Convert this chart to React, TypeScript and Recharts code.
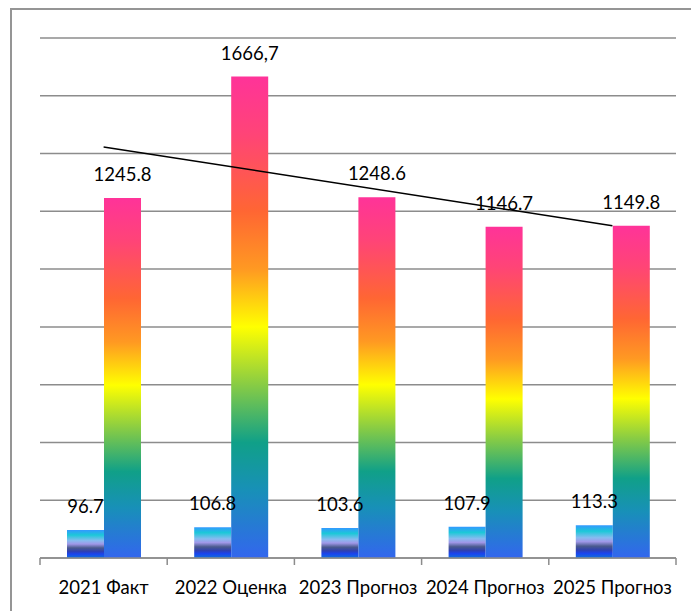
import React from "react";
import {
  Bar,
  ComposedChart,
  CartesianGrid,
  LabelList,
  Line,
  XAxis,
  YAxis,
} from "recharts";

const categories = [
  "2021 Факт",
  "2022 Оценка",
  "2023 Прогноз",
  "2024 Прогноз",
  "2025 Прогноз",
];
const smallValues = [96.7, 106.8, 103.6, 107.9, 113.3];
const smallLabels = ["96.7", "106.8", "103.6", "107.9", "113.3"];
const bigValues = [1245.8, 1666.7, 1248.6, 1146.7, 1149.8];
const bigLabels = ["1245.8", "1666,7", "1248.6", "1146.7", "1149.8"];
// trend line: only its two ends
const trendValues = [1423, null, null, null, 1150];
const yTicks = [0, 200, 400, 600, 800, 1000, 1200, 1400, 1600, 1800];

const data = categories.map((name, i) => ({
  name,
  small: smallValues[i],
  smallLabel: smallLabels[i],
  big: bigValues[i],
  bigLabel: bigLabels[i],
  trend: trendValues[i],
}));

const W = 691;
const H = 611;
const MARGIN = { top: 38, right: 15, bottom: 23, left: 40 };
const BAND = (W - MARGIN.left - MARGIN.right) / categories.length;
const FONT = "Lato, 'Noto Sans', sans-serif";
const GRID = "#8c8c8c";

const CategoryTick = (props: any) => {
  const { x, y, payload, index } = props;
  const last = index === categories.length - 1;
  return (
    <g>
      <line x1={x - BAND / 2} x2={x - BAND / 2} y1={y - 8} y2={y - 1} stroke={GRID} strokeWidth={1.5} />
      {last && (
        <line x1={x + BAND / 2} x2={x + BAND / 2} y1={y - 8} y2={y - 1} stroke={GRID} strokeWidth={1.5} />
      )}
      <text x={x} y={y + 28} textAnchor="middle" fill="#000" fontSize={18.5} fontFamily={FONT}>
        {payload.value}
      </text>
    </g>
  );
};

export default function App() {
  return (
    <div
      style={{
        position: "absolute",
        left: 0,
        top: 0,
        width: W,
        height: H,
        overflow: "hidden",
        background: "#fff",
      }}
    >
      <div
        style={{
          position: "absolute",
          left: 10,
          top: 8,
          width: 720,
          height: 640,
          border: "2px solid #959595",
        }}
      />
      <div style={{ position: "absolute", left: 0, top: 0 }}>
        <ComposedChart width={W} height={H} data={data} margin={MARGIN} barGap={0}>
          <defs>
            <linearGradient id="smallGrad" x1="0" y1="0" x2="0" y2="1">
              <stop offset="0" stopColor="#3399ff" />
              <stop offset="0.18" stopColor="#1cc8d8" />
              <stop offset="0.38" stopColor="#88bbf0" />
              <stop offset="0.5" stopColor="#a098e8" />
              <stop offset="0.64" stopColor="#4a5a8e" />
              <stop offset="0.76" stopColor="#3040b0" />
              <stop offset="0.86" stopColor="#1a44f0" />
              <stop offset="1" stopColor="#1070d8" />
            </linearGradient>
            <linearGradient id="bigGrad" x1="0" y1="0" x2="0" y2="1">
              <stop offset="0" stopColor="#ff3399" />
              <stop offset="0.12" stopColor="#ff4477" />
              <stop offset="0.28" stopColor="#ff6633" />
              <stop offset="0.4" stopColor="#ff9922" />
              <stop offset="0.52" stopColor="#ffff00" />
              <stop offset="0.64" stopColor="#88cc44" />
              <stop offset="0.76" stopColor="#10a088" />
              <stop offset="0.86" stopColor="#1890b8" />
              <stop offset="1" stopColor="#3366ee" />
            </linearGradient>
          </defs>
          <CartesianGrid vertical={false} stroke={GRID} strokeWidth={1.5} />
          <XAxis
            dataKey="name"
            interval={0}
            height={30}
            tickLine={false}
            axisLine={{ stroke: GRID, strokeWidth: 1.5 }}
            tick={<CategoryTick />}
          />
          <YAxis hide domain={[0, 1800]} ticks={yTicks} />
          <Bar dataKey="small" fill="url(#smallGrad)" barSize={37} isAnimationActive={false}>
            <LabelList
              dataKey="smallLabel"
              position="top"
              offset={17}
              fill="#000"
              fontSize={18.5}
              fontFamily={FONT}
            />
          </Bar>
          <Bar dataKey="big" fill="url(#bigGrad)" barSize={37} isAnimationActive={false}>
            <LabelList
              dataKey="bigLabel"
              position="top"
              offset={17}
              fill="#000"
              fontSize={18.5}
              fontFamily={FONT}
            />
          </Bar>
          <Line
            dataKey="trend"
            stroke="#000"
            strokeWidth={1.5}
            dot={false}
            connectNulls
            isAnimationActive={false}
          />
        </ComposedChart>
      </div>
    </div>
  );
}
